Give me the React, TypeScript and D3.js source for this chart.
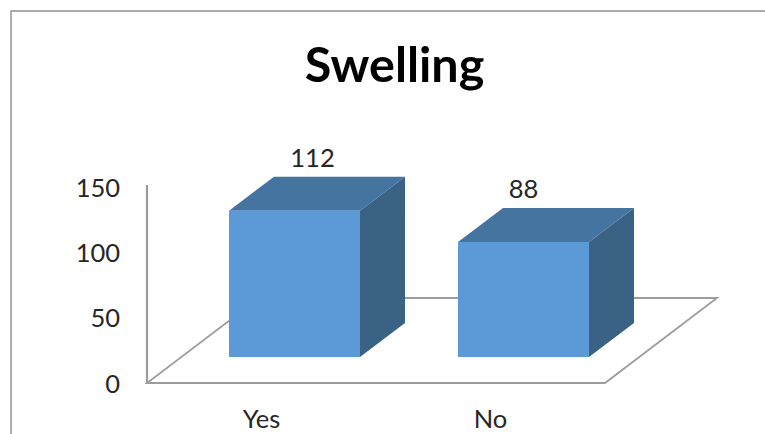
import React from "react";
import * as d3 from "d3";

const title = "Swelling";
const categories = ["Yes", "No"];
const counts = [112, 88];
const yTicks = [0, 50, 100, 150];

const WIDTH = 765;
const HEIGHT = 434;
const FONT = "Lato, Carlito, Calibri, sans-serif";

// Oblique projection: front edge of the floor, and the offsets to its back edge.
const FLOOR_LEFT = 147;
const FLOOR_RIGHT = 605;
const FLOOR_Y = 383;
const FLOOR_DX = 112;
const FLOOR_DY = 85;

// Boxes stand part way into the floor and have a fixed depth.
const BOX_INSET_X = 33;
const BOX_INSET_Y = 26;
const BOX_DX = 45;
const BOX_DY = 34;

const LINE = "#9c9c9c";
const FRONT = "#5b9ad6";
const TOP = "#4674a1";
const SIDE = "#3a6285";
const TEXT = "#262626";

const x = d3
  .scaleBand<string>()
  .domain(categories)
  .range([FLOOR_LEFT, FLOOR_RIGHT])
  .paddingInner(0.428)
  .paddingOuter(0.214);

const y = d3.scaleLinear().domain([0, 150]).range([FLOOR_Y, 187]);

const poly = (pts: [number, number][]) => {
  const path = d3.path();
  pts.forEach(([px, py], i) => (i ? path.lineTo(px, py) : path.moveTo(px, py)));
  path.closePath();
  return path.toString();
};

// The "112" label sits nearer the box's back edge than the "88" label does.
const valueLabelShift = [18, 0];

export default function App() {
  const bw = x.bandwidth();
  return (
    <svg
      width={WIDTH}
      height={HEIGHT}
      viewBox={`0 0 ${WIDTH} ${HEIGHT}`}
      style={{ position: "fixed", left: 0, top: 0, background: "#fff", fontFamily: FONT }}
    >
      {/* chart frame, open on the right and bottom */}
      <path d={`M11 ${HEIGHT}V11H${WIDTH}`} fill="none" stroke="#8f8f8f" strokeWidth={1.4} />

      <text x={394.5} y={82} textAnchor="middle" fontSize={48.5} fontWeight={700} fill="#000">
        {title}
      </text>

      {/* floor and value wall */}
      <path
        d={poly([
          [FLOOR_LEFT, FLOOR_Y],
          [FLOOR_RIGHT, FLOOR_Y],
          [FLOOR_RIGHT + FLOOR_DX, FLOOR_Y - FLOOR_DY],
          [FLOOR_LEFT + FLOOR_DX, FLOOR_Y - FLOOR_DY],
        ])}
        fill="#fff"
        stroke={LINE}
        strokeWidth={1.8}
      />
      <line x1={FLOOR_LEFT} x2={FLOOR_LEFT} y1={FLOOR_Y} y2={185} stroke={LINE} strokeWidth={2.2} />
      <line x1={FLOOR_LEFT} x2={FLOOR_RIGHT} y1={FLOOR_Y} y2={FLOOR_Y} stroke={LINE} strokeWidth={2.2} />

      {yTicks.map((t) => (
        <text key={t} x={120} y={y(t) + 9.5} textAnchor="end" fontSize={25.5} fill={TEXT}>
          {t}
        </text>
      ))}

      {categories.map((c, i) => {
        const left = x(c)! + BOX_INSET_X;
        const right = left + bw;
        const base = FLOOR_Y - BOX_INSET_Y;
        const top = y(counts[i]) - BOX_INSET_Y;
        return (
          <g key={c}>
            <path
              d={poly([
                [left, top],
                [right, top],
                [right + BOX_DX, top - BOX_DY],
                [left + BOX_DX, top - BOX_DY],
              ])}
              fill={TOP}
            />
            <path
              d={poly([
                [right, top],
                [right + BOX_DX, top - BOX_DY],
                [right + BOX_DX, base - BOX_DY],
                [right, base],
              ])}
              fill={SIDE}
            />
            <rect x={left} y={top} width={bw} height={base - top} fill={FRONT} />
            <text
              x={left + bw / 2 + valueLabelShift[i]}
              y={top - BOX_DY - 10}
              textAnchor="middle"
              fontSize={25.5}
              fill={TEXT}
            >
              {counts[i]}
            </text>
            <text x={x(c)! + bw / 2} y={428} textAnchor="middle" fontSize={25.5} fill={TEXT}>
              {c}
            </text>
          </g>
        );
      })}
    </svg>
  );
}
